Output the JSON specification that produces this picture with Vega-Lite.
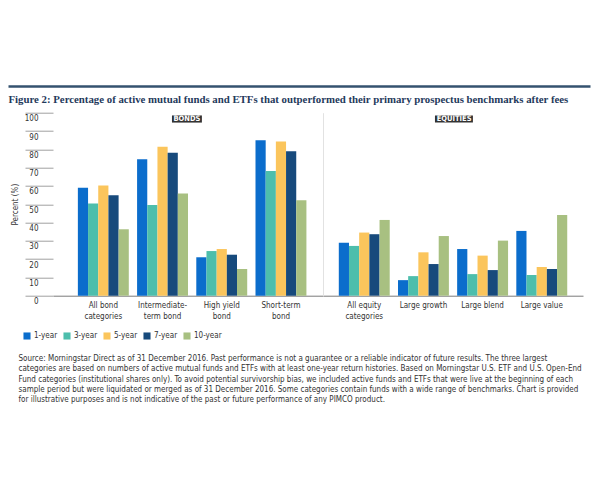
{
  "$schema": "https://vega.github.io/schema/vega-lite/v6.json",
  "padding": {"left": 8, "top": 84, "right": 6, "bottom": 6},
  "background": "white",
  "config": {
    "view": {"stroke": null},
    "font": "DejaVu Sans Condensed, DejaVu Sans, sans-serif",
    "axis": {"labelFont": "DejaVu Sans Condensed, DejaVu Sans, sans-serif", "titleFont": "DejaVu Sans Condensed, DejaVu Sans, sans-serif"},
    "legend": {"labelFont": "DejaVu Sans Condensed, DejaVu Sans, sans-serif"}
  },
  "title": {
    "text": [
      "Source: Morningstar Direct as of 31 December 2016. Past performance is not a guarantee or a reliable indicator of future results. The three largest",
      "categories are based on numbers of active mutual funds and ETFs with at least one-year return histories. Based on Morningstar U.S. ETF and U.S. Open-End",
      "Fund categories (institutional shares only). To avoid potential survivorship bias, we included active funds and ETFs that were live at the beginning of each",
      "sample period but were liquidated or merged as of 31 December 2016. Some categories contain funds with a wide range of benchmarks. Chart is provided",
      "for illustrative purposes and is not indicative of the past or future performance of any PIMCO product."
    ],
    "orient": "bottom",
    "anchor": "start",
    "frame": "bounds",
    "dx": 10.5,
    "offset": 15,
    "font": "DejaVu Sans Condensed, DejaVu Sans, sans-serif",
    "fontSize": 8,
    "fontWeight": "normal",
    "color": "#333333",
    "lineHeight": 10.3
  },
  "datasets": {
    "bars": [
      {"group": "Bonds", "category": "All bond categories", "period": "1-year", "value": 59},
      {"group": "Bonds", "category": "All bond categories", "period": "3-year", "value": 50.4},
      {"group": "Bonds", "category": "All bond categories", "period": "5-year", "value": 60.2},
      {"group": "Bonds", "category": "All bond categories", "period": "7-year", "value": 54.9},
      {"group": "Bonds", "category": "All bond categories", "period": "10-year", "value": 36.3},
      {"group": "Bonds", "category": "Intermediate-term bond", "period": "1-year", "value": 74.5},
      {"group": "Bonds", "category": "Intermediate-term bond", "period": "3-year", "value": 49.5},
      {"group": "Bonds", "category": "Intermediate-term bond", "period": "5-year", "value": 81.4},
      {"group": "Bonds", "category": "Intermediate-term bond", "period": "7-year", "value": 78.1},
      {"group": "Bonds", "category": "Intermediate-term bond", "period": "10-year", "value": 55.8},
      {"group": "Bonds", "category": "High yield bond", "period": "1-year", "value": 21},
      {"group": "Bonds", "category": "High yield bond", "period": "3-year", "value": 24.4},
      {"group": "Bonds", "category": "High yield bond", "period": "5-year", "value": 25.5},
      {"group": "Bonds", "category": "High yield bond", "period": "7-year", "value": 22.4},
      {"group": "Bonds", "category": "High yield bond", "period": "10-year", "value": 14.6},
      {"group": "Bonds", "category": "Short-term bond", "period": "1-year", "value": 85},
      {"group": "Bonds", "category": "Short-term bond", "period": "3-year", "value": 68.2},
      {"group": "Bonds", "category": "Short-term bond", "period": "5-year", "value": 84.3},
      {"group": "Bonds", "category": "Short-term bond", "period": "7-year", "value": 79},
      {"group": "Bonds", "category": "Short-term bond", "period": "10-year", "value": 52.2},
      {"group": "Equities", "category": "All equity categories", "period": "1-year", "value": 29},
      {"group": "Equities", "category": "All equity categories", "period": "3-year", "value": 27.2},
      {"group": "Equities", "category": "All equity categories", "period": "5-year", "value": 34.5},
      {"group": "Equities", "category": "All equity categories", "period": "7-year", "value": 33.6},
      {"group": "Equities", "category": "All equity categories", "period": "10-year", "value": 41.4},
      {"group": "Equities", "category": "Large growth", "period": "1-year", "value": 8.5},
      {"group": "Equities", "category": "Large growth", "period": "3-year", "value": 10.7},
      {"group": "Equities", "category": "Large growth", "period": "5-year", "value": 23.7},
      {"group": "Equities", "category": "Large growth", "period": "7-year", "value": 17.3},
      {"group": "Equities", "category": "Large growth", "period": "10-year", "value": 32.6},
      {"group": "Equities", "category": "Large blend", "period": "1-year", "value": 25.5},
      {"group": "Equities", "category": "Large blend", "period": "3-year", "value": 11.8},
      {"group": "Equities", "category": "Large blend", "period": "5-year", "value": 21.9},
      {"group": "Equities", "category": "Large blend", "period": "7-year", "value": 14},
      {"group": "Equities", "category": "Large blend", "period": "10-year", "value": 30.1},
      {"group": "Equities", "category": "Large value", "period": "1-year", "value": 35.4},
      {"group": "Equities", "category": "Large value", "period": "3-year", "value": 11.3},
      {"group": "Equities", "category": "Large value", "period": "5-year", "value": 15.7},
      {"group": "Equities", "category": "Large value", "period": "7-year", "value": 14.6},
      {"group": "Equities", "category": "Large value", "period": "10-year", "value": 44.1}
    ]
  },
  "spacing": 26.7,
  "bounds": "flush",
  "vconcat": [
    {
      "width": 537,
      "height": 2,
      "data": {"values": [{"v": 0.5}]},
      "mark": {"type": "point", "opacity": 0, "size": 1},
      "encoding": {
        "x": {
          "field": "v",
          "type": "quantitative",
          "scale": {"domain": [0, 1], "range": [-45, 537]},
          "axis": {
            "domain": true,
            "domainColor": "#34526f",
            "domainWidth": 2.5,
            "ticks": false,
            "labels": false,
            "grid": false,
            "title": "Figure 2: Percentage of active mutual funds and ETFs that outperformed their primary prospectus benchmarks after fees",
            "titleAnchor": "start",
            "titleAlign": "left",
            "titleFont": "Liberation Serif",
            "titleFontWeight": "bold",
            "titleFontSize": 10.8,
            "titleColor": "#1f3a5c",
            "titlePadding": 7
          }
        }
      }
    },
    {
      "spacing": 0,
      "hconcat": [
        {
          "width": 270,
          "height": 183,
          "data": {"name": "bars"},
          "transform": [{"filter": "datum.group == 'Bonds'"}],
          "layer": [
            {
              "mark": {"type": "bar"},
              "encoding": {
                "x": {
                  "field": "category",
                  "type": "nominal",
                  "sort": ["All bond categories", "Intermediate-term bond", "High yield bond", "Short-term bond"],
                  "scale": {"domain": ["All bond categories", "Intermediate-term bond", "High yield bond", "Short-term bond"], "paddingInner": 0.14, "paddingOuter": 0.35, "align": 0.6},
                  "axis": {
                    "title": null,
                    "labelAngle": 0,
                    "domain": true,
                    "domainColor": "#7a7a7a",
                    "ticks": false,
                    "labelFontSize": 8,
                    "labelColor": "#333333",
                    "labelPadding": 6,
                    "labelLineHeight": 10.5,
                    "labelBaseline": "top",
                    "labelExpr": "datum.value == 'All bond categories' ? ['All bond', 'categories'] : datum.value == 'Intermediate-term bond' ? ['Intermediate-', 'term bond'] : datum.value == 'High yield bond' ? ['High yield', 'bond'] : ['Short-term', 'bond']"
                  }
                },
                "xOffset": {
                  "field": "period",
                  "type": "nominal",
                  "sort": ["1-year", "3-year", "5-year", "7-year", "10-year"],
                  "scale": {"paddingInner": 0, "paddingOuter": 0}
                },
                "y": {
                  "field": "value",
                  "type": "quantitative",
                  "scale": {"domain": [0, 100], "nice": false},
                  "axis": {
                    "title": "Percent (%)",
                    "titleFontSize": 8,
                    "titleFontWeight": "normal",
                    "titleColor": "#333333",
                    "titlePadding": 5,
                    "values": [0, 10, 20, 30, 40, 50, 60, 70, 80, 90, 100],
                    "tickCount": 11,
                    "labelOverlap": false,
                    "labelBound": false,
                    "grid": false,
                    "domain": false,
                    "ticks": true,
                    "tickSize": 28,
                    "tickColor": "#a0a0a0",
                    "labelPadding": -13,
                    "labelAlign": "right",
                    "labelBaseline": "top",
                    "labelOffset": 2,
                    "labelFontSize": 8,
                    "labelColor": "#333333"
                  }
                },
                "color": {
                  "field": "period",
                  "type": "nominal",
                  "sort": ["1-year", "3-year", "5-year", "7-year", "10-year"],
                  "scale": {"domain": ["1-year", "3-year", "5-year", "7-year", "10-year"], "range": ["#0b6dcc", "#4dbeac", "#fbc55c", "#174a7c", "#a8c081"]},
                  "legend": {
                    "title": null,
                    "orient": "none",
                    "legendX": -30,
                    "legendY": 248,
                    "direction": "horizontal",
                    "symbolType": "square",
                    "symbolSize": 50,
                    "symbolStrokeWidth": 0,
                    "labelFontSize": 8,
                    "labelColor": "#333333",
                    "labelOffset": 3,
                    "columnPadding": 5
                  }
                }
              }
            },
            {
              "data": {"values": [{"label": "BONDS"}]},
              "mark": {"type": "rect", "color": "#333333"},
              "encoding": {
                "x": {"datum": "Intermediate-term bond", "type": "nominal", "bandPosition": 0.685},
                "x2": {"datum": "High yield bond", "bandPosition": 0.11},
                "y": {"datum": 98.5, "type": "quantitative"},
                "y2": {"datum": 94.6}
              }
            },
            {
              "data": {"values": [{"label": "BONDS"}]},
              "mark": {"type": "text", "color": "white", "fontWeight": "bold", "fontSize": 7.5, "baseline": "middle", "align": "center"},
              "encoding": {
                "text": {"field": "label"},
                "x": {"datum": "Intermediate-term bond", "type": "nominal", "bandPosition": 0.98},
                "y": {"datum": 96.5, "type": "quantitative"}
              }
            }
          ]
        },
        {
          "width": 260,
          "height": 183,
          "data": {"name": "bars"},
          "transform": [{"filter": "datum.group == 'Equities'"}],
          "layer": [
            {
              "mark": {"type": "bar"},
              "encoding": {
                "x": {
                  "field": "category",
                  "type": "nominal",
                  "sort": ["All equity categories", "Large growth", "Large blend", "Large value"],
                  "scale": {"domain": ["All equity categories", "Large growth", "Large blend", "Large value"], "paddingInner": 0.14, "paddingOuter": 0.267, "align": 0.5},
                  "axis": {
                    "title": null,
                    "labelAngle": 0,
                    "domain": true,
                    "domainColor": "#7a7a7a",
                    "ticks": false,
                    "labelFontSize": 8,
                    "labelColor": "#333333",
                    "labelPadding": 6,
                    "labelLineHeight": 10.5,
                    "labelBaseline": "top",
                    "labelExpr": "datum.value == 'All equity categories' ? ['All equity', 'categories'] : datum.value"
                  }
                },
                "xOffset": {
                  "field": "period",
                  "type": "nominal",
                  "sort": ["1-year", "3-year", "5-year", "7-year", "10-year"],
                  "scale": {"paddingInner": 0, "paddingOuter": 0}
                },
                "y": {
                  "field": "value",
                  "type": "quantitative",
                  "scale": {"domain": [0, 100], "nice": false},
                  "axis": {
                    "title": null,
                    "grid": false,
                    "domain": true,
                    "domainColor": "#e2e2e2",
                    "ticks": false,
                    "labels": false
                  }
                },
                "color": {
                  "field": "period",
                  "type": "nominal",
                  "sort": ["1-year", "3-year", "5-year", "7-year", "10-year"],
                  "scale": {"domain": ["1-year", "3-year", "5-year", "7-year", "10-year"], "range": ["#0b6dcc", "#4dbeac", "#fbc55c", "#174a7c", "#a8c081"]}
                }
              }
            },
            {
              "data": {"values": [{"label": "EQUITIES"}]},
              "mark": {"type": "rect", "color": "#333333"},
              "encoding": {
                "x": {"datum": "Large growth", "type": "nominal", "bandPosition": 0.727},
                "x2": {"datum": "Large blend", "bandPosition": 0.31},
                "y": {"datum": 98.5, "type": "quantitative"},
                "y2": {"datum": 94.6}
              }
            },
            {
              "data": {"values": [{"label": "EQUITIES"}]},
              "mark": {"type": "text", "color": "white", "fontWeight": "bold", "fontSize": 7.5, "baseline": "middle", "align": "center"},
              "encoding": {
                "text": {"field": "label"},
                "x": {"datum": "Large blend", "type": "nominal", "bandPosition": -0.06},
                "y": {"datum": 96.5, "type": "quantitative"}
              }
            }
          ]
        }
      ]
    }
  ]
}
